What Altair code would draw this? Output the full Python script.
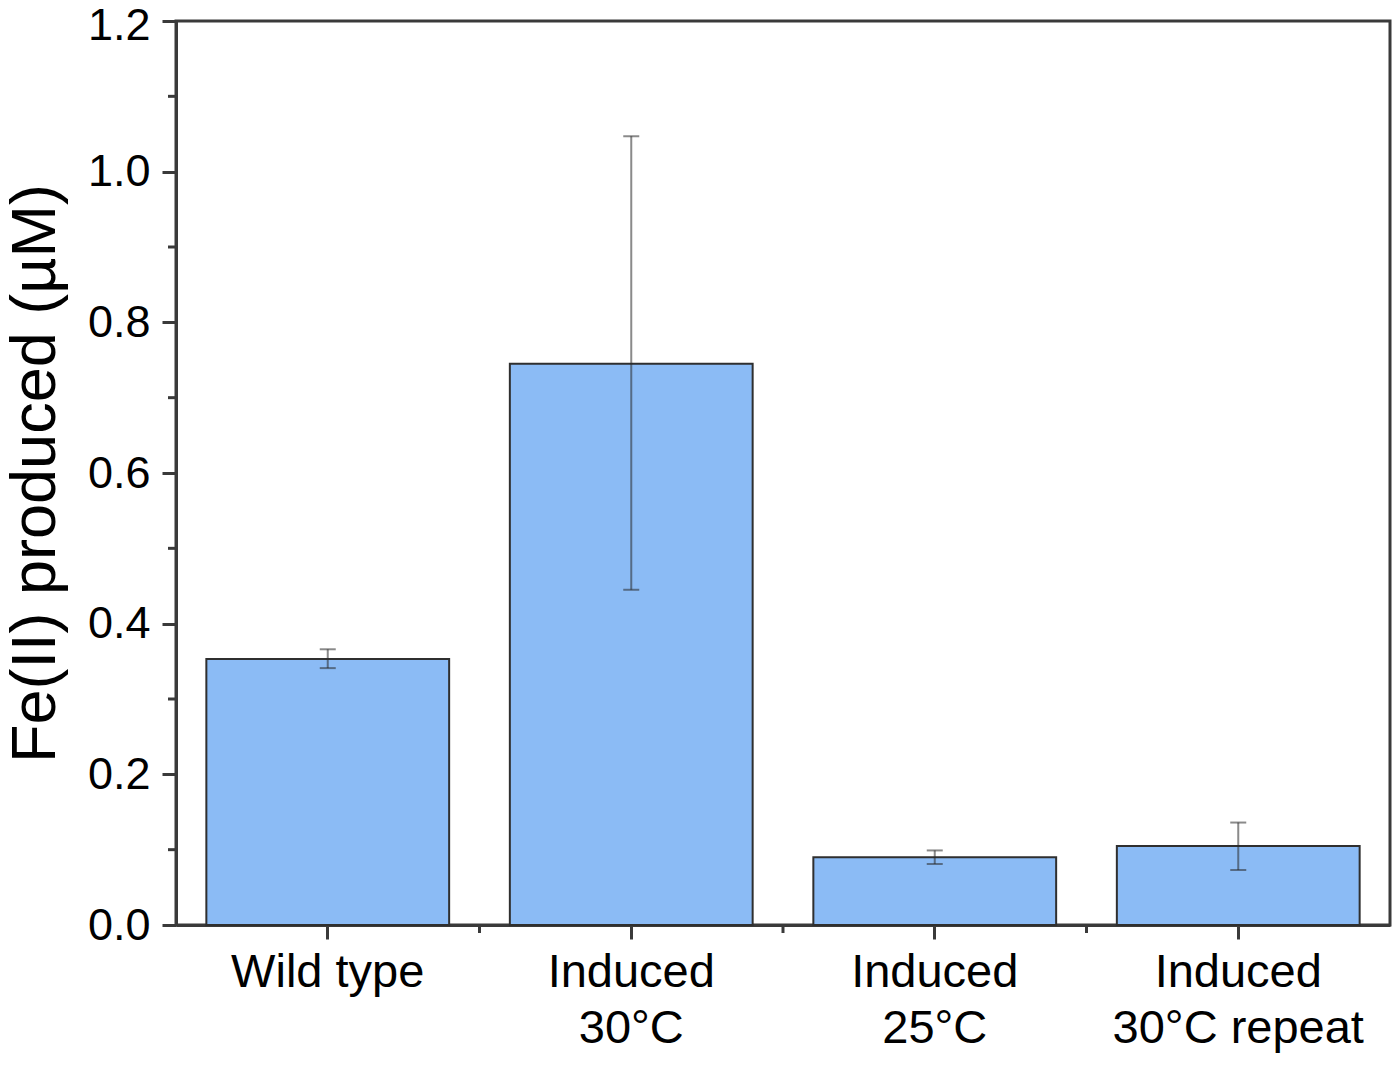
import altair as alt
import pandas as pd

categories = ["Wild type", "Induced\n30°C", "Induced\n25°C", "Induced\n30°C repeat"]
means = [0.353, 0.745, 0.090, 0.105]
err_low = [0.341, 0.445, 0.081, 0.073]
err_high = [0.366, 1.047, 0.099, 0.136]
y_major = [0.0, 0.2, 0.4, 0.6, 0.8, 1.0, 1.2]
y_minor = [0.1, 0.3, 0.5, 0.7, 0.9, 1.1]
x_minor = [1, 2, 3]

df = pd.DataFrame({"cat": categories, "mean": means, "lo": err_low, "hi": err_high})
df_ymin = pd.DataFrame({"v": y_minor})
df_xmin = pd.DataFrame({"b": x_minor})

W, H = 1214, 904
AX = "#3a3a3a"
FONT = "Liberation Sans"

xenc = alt.X(
    "cat:N",
    sort=categories,
    scale=alt.Scale(paddingInner=0.2, paddingOuter=0.1),
    axis=alt.Axis(
        title=None, labelAngle=0, labelExpr="split(datum.label, '\\n')",
        labelFontSize=47, labelLineHeight=56, labelPadding=10, labelColor="black",
        labelFont=FONT, labelLimit=0, tickSize=14, tickWidth=3, tickColor=AX,
        domainColor=AX, domainWidth=3, labelBaseline="top",
    ),
)
yscale = alt.Scale(domain=[0, 1.2], nice=False, zero=True)

bars = alt.Chart(df).mark_bar(
    fill="#8bbbf5", stroke="#2f2f2f", strokeWidth=2
).encode(
    x=xenc,
    y=alt.Y(
        "mean:Q", scale=yscale,
        axis=alt.Axis(
            values=y_major, format=".1f", title="Fe(II) produced (µM)",
            titleFontSize=63, titleFont=FONT, titleFontWeight="normal", titleColor="black",
            titleX=-141, titleY=H / 2, titleAngle=270, titleAlign="center", titleBaseline="middle",
            labelFontSize=45, labelFont=FONT, labelColor="black", labelPadding=12,
            labelOffset={"condition": {"test": "datum.value > 1.15", "value": 4}, "value": 0},
            tickSize=14, tickWidth=3, tickColor=AX, domainColor=AX, domainWidth=3, grid=False,
        ),
    ),
)

rules = alt.Chart(df).mark_rule(color="#2a2a2a", opacity=0.55, strokeWidth=2).encode(
    x=alt.X("cat:N", sort=categories), y=alt.Y("lo:Q"), y2="hi:Q"
)
cap_lo = alt.Chart(df).mark_tick(color="#2a2a2a", opacity=0.55, size=16, thickness=2, orient="horizontal").encode(
    x=alt.X("cat:N", sort=categories), y="lo:Q"
)
cap_hi = alt.Chart(df).mark_tick(color="#2a2a2a", opacity=0.55, size=16, thickness=2, orient="horizontal").encode(
    x=alt.X("cat:N", sort=categories), y="hi:Q"
)

yminor = alt.Chart(df_ymin).mark_rule(color=AX, strokeWidth=3).encode(
    y=alt.Y("v:Q"), x=alt.value(-8), x2=alt.value(0)
)

inner = alt.layer(bars, rules, cap_lo, cap_hi, yminor)

xminor = alt.Chart(df_xmin).mark_rule(color=AX, strokeWidth=3).encode(
    x=alt.X("b:Q", scale=alt.Scale(domain=[0, 4], nice=False, zero=False), axis=None),
    y=alt.value(H), y2=alt.value(H + 8),
)

chart = alt.layer(inner, xminor).resolve_scale(x="independent").properties(
    width=W, height=H,
    autosize=alt.AutoSizeParams(type="none"),
    padding={"left": 168, "top": 13, "right": 2, "bottom": 128},
    background="white",
).configure_view(stroke=AX, strokeWidth=3)

chart.save("out.html", embed_options={"renderer": "svg", "actions": False})
